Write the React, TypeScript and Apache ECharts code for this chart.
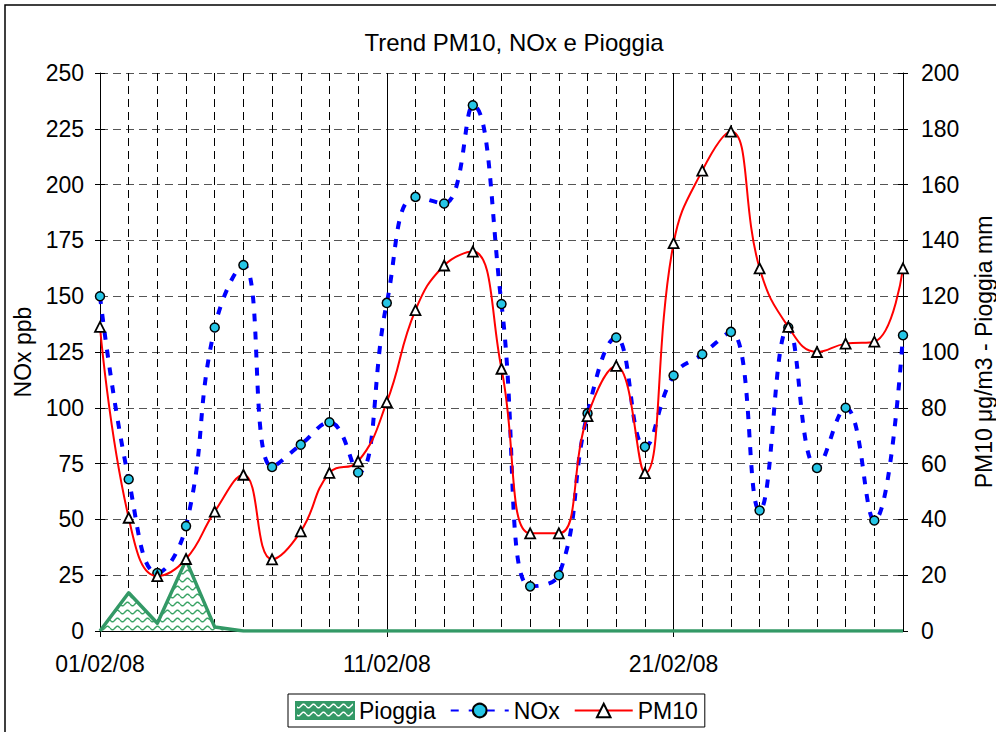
import React, { useEffect, useRef } from "react";
import * as echarts from "echarts";

const days = [
  "01/02/08", "02/02/08", "03/02/08", "04/02/08", "05/02/08", "06/02/08", "07/02/08", "08/02/08",
  "09/02/08", "10/02/08", "11/02/08", "12/02/08", "13/02/08", "14/02/08", "15/02/08", "16/02/08",
  "17/02/08", "18/02/08", "19/02/08", "20/02/08", "21/02/08", "22/02/08", "23/02/08", "24/02/08",
  "25/02/08", "26/02/08", "27/02/08", "28/02/08", "29/02/08",
];

const noxValues = [
  150, 68, 26, 47, 136, 164, 73.5, 83.5, 93.5, 71,
  147, 194.5, 191.5, 235.5, 146.5, 20, 25, 97.5, 131.5, 82.5,
  114.5, 124, 134, 54, 136, 73, 100, 49.5, 132.5,
];

const pm10Values = [
  109, 40.6, 19.7, 25.8, 42.8, 56, 25.7, 35.7, 56.7, 60.8,
  82, 115, 131, 136, 94, 35, 35, 77, 95, 56.6,
  139, 165, 179, 130, 109, 100, 103, 103.7, 130,
];

const rainValues = [
  0, 13.7, 2.8, 25.4, 1.4, 0, 0, 0, 0, 0,
  0, 0, 0, 0, 0, 0, 0, 0, 0, 0,
  0, 0, 0, 0, 0, 0, 0, 0, 0,
];

const FONT = "'Liberation Sans', Arial, sans-serif";
const GREEN = "#339966";

function wavePattern(bg: string, fg: string) {
  const c = document.createElement("canvas");
  c.width = 10;
  c.height = 8;
  const ctx = c.getContext("2d")!;
  ctx.fillStyle = bg;
  ctx.fillRect(0, 0, 10, 8);
  ctx.strokeStyle = fg;
  ctx.lineWidth = 1.5;
  ctx.beginPath();
  for (let x = 0; x <= 10; x += 0.5) {
    const y = 4 + 1.8 * Math.sin((2 * Math.PI * x) / 10);
    if (x === 0) ctx.moveTo(x, y);
    else ctx.lineTo(x, y);
  }
  ctx.stroke();
  return { image: c, repeat: "repeat", imageWidth: 10, imageHeight: 8 } as any;
}

export default function App() {
  const ref = useRef<HTMLDivElement>(null);
  useEffect(() => {
    if (!ref.current) return;
    const chart = echarts.init(ref.current, null, { renderer: "svg" });
    const areaPattern = wavePattern("#ffffff", "#3aa466");
    const legendPattern = wavePattern(GREEN, "#ffffff");
    const labelStyle = { fontSize: 23, color: "#000", fontFamily: FONT };
    chart.setOption({
      animation: false,
      backgroundColor: "#fff",
      graphic: [
        {
          type: "rect",
          shape: { x: 5, y: 5, width: 1100, height: 1100 },
          style: { fill: "none", stroke: "#000", lineWidth: 1.5 },
          z: -10,
          silent: true,
        },
        {
          type: "text",
          x: 514,
          y: 42,
          style: {
            text: "Trend PM10, NOx e Pioggia",
            fontSize: 24,
            fontFamily: FONT,
            fill: "#000",
            align: "center",
            verticalAlign: "middle",
          },
        },
      ],
      legend: {
        left: 288,
        top: 694,
        padding: [5, 7],
        borderColor: "#000",
        borderWidth: 1,
        backgroundColor: "#fff",
        itemGap: 14,
        itemWidth: 58,
        itemHeight: 17,
        selectedMode: false,
        textStyle: labelStyle,
        data: [
          {
            name: "Pioggia",
            icon: "rect",
            itemStyle: { color: legendPattern, borderColor: GREEN, borderWidth: 2 },
          },
          { name: "NOx" },
          { name: "PM10" },
        ],
      },
      grid: {
        left: 100,
        right: 93,
        top: 73,
        bottom: 101,
        containLabel: false,
        outerBoundsMode: "none",
      },
      xAxis: [
        {
          type: "category",
          data: days,
          boundaryGap: false,
          axisLine: { show: true, lineStyle: { color: "#000", width: 1 } },
          axisTick: {
            show: true,
            length: 6,
            interval: (i: number) => i % 10 === 0,
            lineStyle: { color: "#000" },
          },
          axisLabel: {
            ...labelStyle,
            margin: 21,
            interval: (i: number) => i % 10 === 0,
          },
          splitLine: {
            show: true,
            interval: 0,
            lineStyle: { color: "#000", type: [8, 5], width: 1 },
          },
        },
        {
          type: "category",
          data: days,
          boundaryGap: false,
          position: "top",
          axisLine: { show: true, lineStyle: { color: "#000", width: 1 } },
          axisTick: { show: false },
          axisLabel: { show: false },
          splitLine: {
            show: true,
            interval: (i: number) => i % 10 === 0,
            lineStyle: { color: "#000", type: "solid", width: 1 },
          },
        },
      ],
      yAxis: [
        {
          type: "value",
          min: 0,
          max: 250,
          interval: 25,
          position: "left",
          name: "NOx ppb",
          nameLocation: "middle",
          nameGap: 62,
          nameTextStyle: labelStyle,
          axisLine: { show: true, lineStyle: { color: "#000", width: 1 } },
          axisTick: { show: true, length: 5, lineStyle: { color: "#000" } },
          axisLabel: { ...labelStyle, margin: 16 },
          splitLine: {
            show: true,
            lineStyle: { color: "#555", type: [8, 5], width: 1 },
          },
        },
        {
          type: "value",
          min: 0,
          max: 200,
          interval: 20,
          position: "right",
          name: "PM10 μg/m3 - Pioggia mm",
          nameLocation: "middle",
          nameGap: 69,
          nameRotate: 90,
          nameTextStyle: labelStyle,
          axisLine: { show: true, lineStyle: { color: "#000", width: 1 } },
          axisTick: { show: true, length: 5, lineStyle: { color: "#000" } },
          axisLabel: { ...labelStyle, margin: 18 },
          splitLine: { show: false },
        },
        {
          type: "value",
          min: 0,
          max: 250,
          interval: 25,
          position: "left",
          axisLine: { show: false },
          axisTick: { show: true, inside: true, length: 5, lineStyle: { color: "#000" } },
          axisLabel: { show: false },
          splitLine: { show: false },
        },
        {
          type: "value",
          min: 0,
          max: 200,
          interval: 20,
          position: "right",
          axisLine: { show: false },
          axisTick: { show: true, inside: true, length: 5, lineStyle: { color: "#000" } },
          axisLabel: { show: false },
          splitLine: { show: false },
        },
      ],
      series: [
        {
          name: "Pioggia",
          type: "line",
          xAxisIndex: 0,
          yAxisIndex: 1,
          data: rainValues,
          symbol: "none",
          smooth: false,
          lineStyle: { color: GREEN, width: 3.5, join: "round" },
          itemStyle: { color: GREEN },
          areaStyle: { color: areaPattern, opacity: 1 },
          z: 2,
        },
        {
          name: "NOx",
          type: "line",
          xAxisIndex: 0,
          yAxisIndex: 0,
          data: noxValues,
          smooth: 0.45,
          symbol: "circle",
          symbolSize: 9,
          showAllSymbol: true,
          lineStyle: { color: "#0000ff", width: 4, type: [8, 10], cap: "butt" },
          itemStyle: { color: "#26C6E6", borderColor: "#000", borderWidth: 1.5 },
          z: 3,
        },
        {
          name: "PM10",
          type: "line",
          xAxisIndex: 0,
          yAxisIndex: 1,
          data: pm10Values,
          smooth: 0.45,
          symbol: "triangle",
          symbolSize: 10,
          showAllSymbol: true,
          lineStyle: { color: "#ff0000", width: 2 },
          itemStyle: { color: "#fff", borderColor: "#000", borderWidth: 1.8 },
          z: 4,
        },
      ],
    });
    return () => chart.dispose();
  }, []);
  return (
    <div
      ref={ref}
      style={{ position: "fixed", left: 0, top: 0, width: 996, height: 732, background: "#fff" }}
    />
  );
}
